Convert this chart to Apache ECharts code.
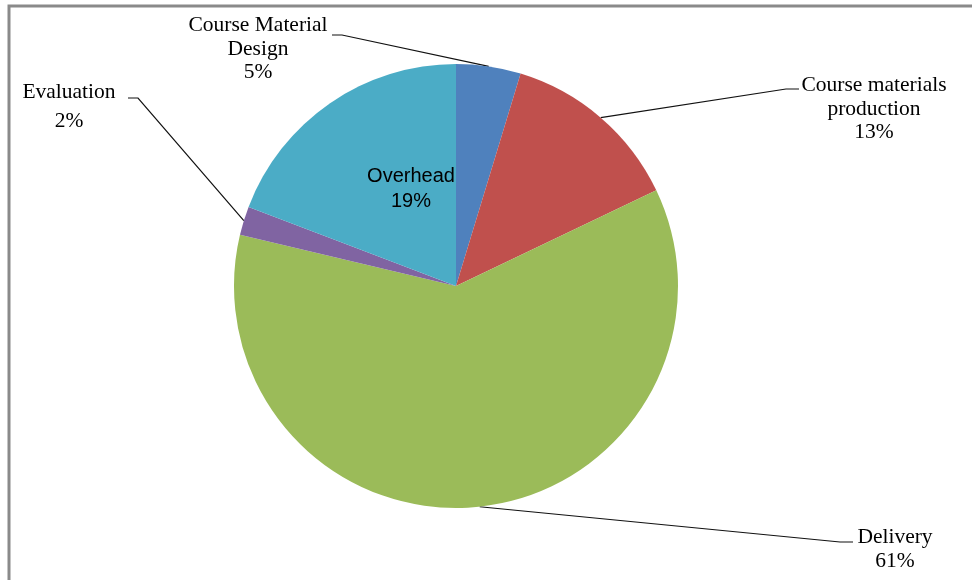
<!DOCTYPE html>
<html>
<head>
<meta charset="utf-8">
<script src="https://cdn.jsdelivr.net/npm/echarts@6/dist/echarts.min.js"></script>
<style>
html,body{margin:0;padding:0;background:#fff;}
#chart{width:972px;height:580px;}
</style>
</head>
<body>
<div id="chart"></div>
<script>
// ---- data ----
const categories = ['Course Material Design', 'Course materials production', 'Delivery', 'Evaluation', 'Overhead'];
const values = [4.7, 13.2, 60.8, 2.1, 19.2];
const colors = ['#4F81BD', '#C0504D', '#9BBB59', '#8064A2', '#4BACC6'];
const wrappedNames = {
  'Course Material Design': 'Course Material\nDesign',
  'Course materials production': 'Course materials\nproduction'
};

// ---- label placement (layout only) ----
const labelPlacement = [
  { x: 258, y: 49, line: [[342, 35], [332, 35]] },
  { x: 874, y: 109, line: [[786, 89], [799, 89]] },
  { x: 895, y: 549, line: [[840, 542], [853, 542]] },
  { x: 69, y: 106.5, line: [[138, 98], [128, 98]] },
  { x: 411, y: 188.5, line: null }
];

const chart = echarts.init(document.getElementById('chart'), null, { renderer: 'canvas' });

const serifLabel = {
  fontFamily: '"Liberation Serif", "Times New Roman", serif',
  fontSize: 21.5,
  lineHeight: 23.5,
  color: '#000'
};

const seriesData = categories.map((c, i) => {
  const item = { name: c, value: values[i], itemStyle: { color: colors[i] } };
  if (c === 'Overhead') {
    item.label = {
      position: 'inside',
      fontFamily: '"Liberation Sans", Arial, sans-serif',
      fontSize: 20,
      lineHeight: 25,
      color: '#000'
    };
    item.labelLine = { show: false };
  }
  if (c === 'Evaluation') {
    item.label = { lineHeight: 29 };
  }
  if (c === 'Delivery') {
    item.label = { lineHeight: 24 };
  }
  return item;
});

chart.setOption({
  animation: false,
  backgroundColor: '#fff',
  graphic: [{
    type: 'rect',
    shape: { x: 9, y: 6, width: 1200, height: 1200 },
    style: { fill: 'none', stroke: '#8a8a8a', lineWidth: 3 },
    silent: true
  }],
  series: [{
    type: 'pie',
    center: [456, 286],
    radius: 222,
    startAngle: 90,
    clockwise: true,
    percentPrecision: 0,
    avoidLabelOverlap: false,
    itemStyle: { borderWidth: 0 },
    label: Object.assign({
      show: true,
      position: 'outside',
      align: 'center',
      formatter: p => (wrappedNames[p.name] || p.name) + '\n' + p.percent + '%'
    }, serifLabel),
    labelLine: {
      show: true,
      lineStyle: { color: '#111', width: 1.2 }
    },
    labelLayout: function (params) {
      const lp = labelPlacement[params.dataIndex];
      const res = { x: lp.x, y: lp.y, align: 'center', verticalAlign: 'middle' };
      if (lp.line && params.labelLinePoints) {
        res.labelLinePoints = [params.labelLinePoints[0], lp.line[0], lp.line[1]];
      }
      return res;
    },
    emphasis: { disabled: true },
    data: seriesData
  }]
});
</script>
</body>
</html>
